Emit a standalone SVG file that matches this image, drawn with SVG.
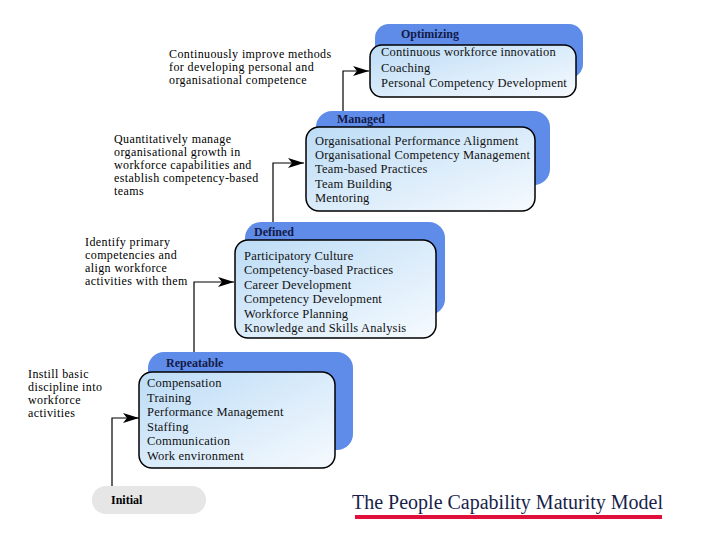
<svg xmlns="http://www.w3.org/2000/svg" width="720" height="540" viewBox="0 0 720 540">
<defs>
<linearGradient id="fg" x1="0" y1="0" x2="1" y2="1">
<stop offset="0" stop-color="#bcdcf6"/>
<stop offset="1" stop-color="#f6fafe"/>
</linearGradient>
<marker id="ah" viewBox="0 0 16 10" refX="16" refY="5" markerWidth="16" markerHeight="10" markerUnits="userSpaceOnUse" orient="auto">
<path d="M0,0 L16,5 L0,10 L4,5 Z" fill="#000"/>
</marker>
</defs>
<style>
.back{fill:#5e8ce8}
.front{fill:url(#fg);stroke:#000;stroke-width:1.5}
.t{font-family:"Liberation Serif","Times New Roman",serif;font-size:12px;letter-spacing:0.4px;fill:#000}
.item{font-family:"Liberation Serif","Times New Roman",serif;font-size:12.5px;letter-spacing:0.2px;fill:#111}
.ttl{font-family:"Liberation Serif","Times New Roman",serif;font-size:12px;font-weight:bold;fill:#141a48}
.conn{fill:none;stroke:#000;stroke-width:1.2}
</style>
<rect width="720" height="540" fill="#fff"/>
<g id="connectors">
<path class="conn" d="M112,486 V418 H139" marker-end="url(#ah)"/>
<path class="conn" d="M194,352 V282 H234" marker-end="url(#ah)"/>
<path class="conn" d="M273,222 V163 H304" marker-end="url(#ah)"/>
<path class="conn" d="M343,111 V71 H369" marker-end="url(#ah)"/>
</g>
<g id="optimizing">
<rect class="back" x="375" y="24" width="208" height="54" rx="14"/>
<rect class="front" x="370" y="45" width="206" height="52" rx="12"/>
<text class="ttl" x="401" y="38">Optimizing</text>
<text class="item" x="381" y="56">Continuous workforce innovation</text>
<text class="item" x="381" y="72">Coaching</text>
<text class="item" x="381" y="87">Personal Competency Development</text>
</g>
<g id="managed">
<rect class="back" x="316" y="111" width="234" height="74" rx="16"/>
<rect class="front" x="306" y="127" width="229" height="84" rx="13"/>
<text class="ttl" x="337" y="123">Managed</text>
<text class="item" x="315" y="145">Organisational Performance Alignment</text>
<text class="item" x="315" y="159">Organisational Competency Management</text>
<text class="item" x="315" y="173">Team-based Practices</text>
<text class="item" x="315" y="188">Team Building</text>
<text class="item" x="315" y="202">Mentoring</text>
</g>
<g id="defined">
<rect class="back" x="245" y="222" width="200" height="93" rx="16"/>
<rect class="front" x="235" y="240" width="201" height="98" rx="13"/>
<text class="ttl" x="254" y="236">Defined</text>
<text class="item" x="244" y="260">Participatory Culture</text>
<text class="item" x="244" y="274">Competency-based Practices</text>
<text class="item" x="244" y="289">Career Development</text>
<text class="item" x="244" y="303">Competency Development</text>
<text class="item" x="244" y="318">Workforce Planning</text>
<text class="item" x="244" y="332">Knowledge and Skills Analysis</text>
</g>
<g id="repeatable">
<rect class="back" x="148" y="352" width="205" height="98" rx="16"/>
<rect class="front" x="139" y="372" width="196" height="96" rx="13"/>
<text class="ttl" x="166" y="367">Repeatable</text>
<text class="item" x="147" y="387">Compensation</text>
<text class="item" x="147" y="402">Training</text>
<text class="item" x="147" y="416">Performance Management</text>
<text class="item" x="147" y="431">Staffing</text>
<text class="item" x="147" y="445">Communication</text>
<text class="item" x="147" y="460">Work environment</text>
</g>
<g id="initial">
<rect x="92" y="486" width="114" height="28" rx="14" fill="#e6e6e6"/>
<text class="ttl" x="111" y="504" style="fill:#000">Initial</text>
</g>
<g id="labels">
<text class="t" x="169" y="58">Continuously improve methods</text>
<text class="t" x="169" y="71">for developing personal and</text>
<text class="t" x="169" y="84">organisational competence</text>
<text class="t" x="114" y="143">Quantitatively manage</text>
<text class="t" x="114" y="156">organisational growth in</text>
<text class="t" x="114" y="169">workforce capabilities and</text>
<text class="t" x="114" y="182">establish competency-based</text>
<text class="t" x="114" y="195">teams</text>
<text class="t" x="85" y="246">Identify primary</text>
<text class="t" x="85" y="259">competencies and</text>
<text class="t" x="85" y="272">align workforce</text>
<text class="t" x="85" y="285">activities with them</text>
<text class="t" x="28" y="378">Instill basic</text>
<text class="t" x="28" y="391">discipline into</text>
<text class="t" x="28" y="404">workforce</text>
<text class="t" x="28" y="417">activities</text>
</g>
<g id="title">
<text x="352" y="509" style="font-family:'Liberation Serif','Times New Roman',serif;font-size:20px;fill:#1a1f4a">The People Capability Maturity Model</text>
<rect x="355" y="515" width="307" height="4" fill="#e0103a"/>
</g>
</svg>
